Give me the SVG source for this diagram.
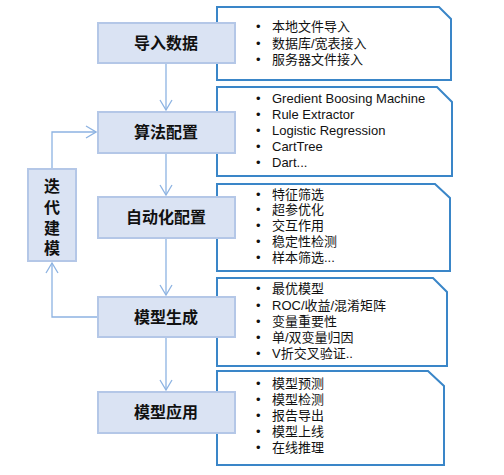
<svg xmlns="http://www.w3.org/2000/svg" width="504" height="475" viewBox="0 0 504 475">
<defs>
<style>
.box{fill:#dae3f3;stroke:#b4c7e7;stroke-width:2}
.panel{fill:#fff;stroke:#3a86c8;stroke-width:2}
.lbl{font-family:"Liberation Sans","Noto Sans CJK SC",sans-serif;font-weight:bold;font-size:16px;fill:#111;text-anchor:middle;dominant-baseline:central}
.item{font-family:"Liberation Sans","Noto Sans CJK SC",sans-serif;font-size:13px;fill:#111;dominant-baseline:central}
.bul{font-family:"Liberation Sans",sans-serif;font-size:13px;fill:#111;dominant-baseline:central}
.conn{fill:none;stroke:#8db3e2;stroke-width:1.3}
</style>
<marker id="arr" viewBox="0 0 12 14" refX="11" refY="7" markerWidth="12" markerHeight="14" markerUnits="userSpaceOnUse" orient="auto">
<path d="M1,1 L11,7 L1,13" fill="none" stroke="#8db3e2" stroke-width="1.3"/>
</marker>
</defs>
<rect width="504" height="475" fill="#fff"/>

<g id="connectors">
<line class="conn" x1="166" y1="63" x2="166" y2="110" marker-end="url(#arr)"/>
<line class="conn" x1="166" y1="153" x2="166" y2="195" marker-end="url(#arr)"/>
<line class="conn" x1="166" y1="238" x2="166" y2="295" marker-end="url(#arr)"/>
<line class="conn" x1="166" y1="337" x2="166" y2="390" marker-end="url(#arr)"/>
<polyline class="conn" points="98,317 52,317 52,263" marker-end="url(#arr)"/>
<polyline class="conn" points="52,169 52,132 96,132" marker-end="url(#arr)"/>
</g>

<g id="panel-import">
<path class="panel" d="M217,7 H439 L451,19 V80 H217 Z"/>
<text class="bul" x="256" y="26">•</text><text class="item" x="272" y="26">本地文件导入</text>
<text class="bul" x="256" y="43">•</text><text class="item" x="272" y="43">数据库/宽表接入</text>
<text class="bul" x="256" y="59">•</text><text class="item" x="272" y="59">服务器文件接入</text>
</g>

<g id="panel-algo">
<path class="panel" d="M217,87 H437 L452,102 V176 H217 Z"/>
<text class="bul" x="256" y="98">•</text><text class="item" x="272" y="98">Gredient Boosing Machine</text>
<text class="bul" x="256" y="114">•</text><text class="item" x="272" y="114">Rule Extractor</text>
<text class="bul" x="256" y="130">•</text><text class="item" x="272" y="130">Logistic Regression</text>
<text class="bul" x="256" y="146">•</text><text class="item" x="272" y="146">CartTree</text>
<text class="bul" x="256" y="162">•</text><text class="item" x="272" y="162">Dart...</text>
</g>

<g id="panel-auto">
<path class="panel" d="M217,184 H435 L450,198 V271 H217 Z"/>
<text class="bul" x="256" y="194">•</text><text class="item" x="272" y="194">特征筛选</text>
<text class="bul" x="256" y="209">•</text><text class="item" x="272" y="209">超参优化</text>
<text class="bul" x="256" y="225">•</text><text class="item" x="272" y="225">交互作用</text>
<text class="bul" x="256" y="241">•</text><text class="item" x="272" y="241">稳定性检测</text>
<text class="bul" x="256" y="257">•</text><text class="item" x="272" y="257">样本筛选...</text>
</g>

<g id="panel-gen">
<path class="panel" d="M217,278 H433 L447,292 V366 H217 Z"/>
<text class="bul" x="256" y="288">•</text><text class="item" x="272" y="288">最优模型</text>
<text class="bul" x="256" y="305">•</text><text class="item" x="272" y="305">ROC/收益/混淆矩阵</text>
<text class="bul" x="256" y="321">•</text><text class="item" x="272" y="321">变量重要性</text>
<text class="bul" x="256" y="337">•</text><text class="item" x="272" y="337">单/双变量归因</text>
<text class="bul" x="256" y="353">•</text><text class="item" x="272" y="353">V折交叉验证..</text>
</g>

<g id="panel-app">
<path class="panel" d="M217,371 H428 L444,386 V465 H217 Z"/>
<text class="bul" x="256" y="383">•</text><text class="item" x="272" y="383">模型预测</text>
<text class="bul" x="256" y="399">•</text><text class="item" x="272" y="399">模型检测</text>
<text class="bul" x="256" y="415">•</text><text class="item" x="272" y="415">报告导出</text>
<text class="bul" x="256" y="431">•</text><text class="item" x="272" y="431">模型上线</text>
<text class="bul" x="256" y="447">•</text><text class="item" x="272" y="447">在线推理</text>
</g>

<g id="node-import"><rect class="box" x="98" y="23" width="137" height="40"/><text class="lbl" x="166" y="43">导入数据</text></g>
<g id="node-algo"><rect class="box" x="98" y="112" width="137" height="41"/><text class="lbl" x="166" y="132">算法配置</text></g>
<g id="node-auto"><rect class="box" x="98" y="197" width="137" height="41"/><text class="lbl" x="166" y="217">自动化配置</text></g>
<g id="node-gen"><rect class="box" x="98" y="297" width="137" height="40"/><text class="lbl" x="166" y="317">模型生成</text></g>
<g id="node-app"><rect class="box" x="98" y="392" width="137" height="41"/><text class="lbl" x="166" y="412">模型应用</text></g>

<g id="node-iter">
<rect class="box" x="28" y="169" width="48" height="92"/>
<text class="lbl" x="52" y="186">迭</text>
<text class="lbl" x="52" y="207">代</text>
<text class="lbl" x="52" y="228">建</text>
<text class="lbl" x="52" y="248">模</text>
</g>
</svg>
